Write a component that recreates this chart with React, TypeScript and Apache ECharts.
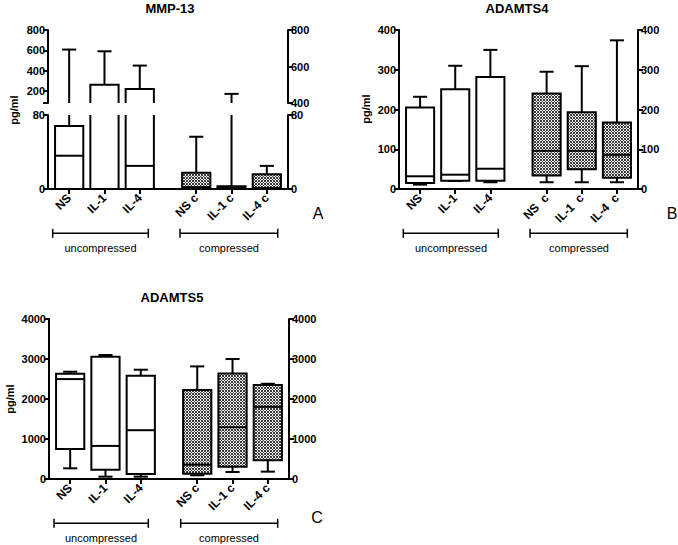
import React, { useEffect, useRef } from 'react';
import * as echarts from 'echarts';

const categories = ['NS', 'IL-1', 'IL-4', 'NS c', 'IL-1 c', 'IL-4 c'];
const categoriesB = ['NS', 'IL-1', 'IL-4', 'NS  c', 'IL-1  c', 'IL-4  c'];
const groupNames = ['uncompressed', 'compressed'];
const titles = ['MMP-13', 'ADAMTS4', 'ADAMTS5'];
const panelLetters = ['A', 'B', 'C'];

// [min, Q1, median, Q3, max]
const mmp13 = [
  [0, 0, 36, 68, 607],
  [0, 0, 0, 259, 590],
  [0, 0, 25, 217, 449],
  [0, 0, 2, 17.6, 56.5],
  [0, 0, 1, 3, 170],
  [0, 0, 1, 16, 25],
];
const adamts4 = [
  [11, 15, 32, 205, 232],
  [20, 21, 36, 251, 310],
  [17, 21, 51, 282, 350],
  [17, 34, 96, 240, 295],
  [17, 50, 96, 193, 309],
  [17, 28, 86, 167, 374],
];
const adamts5 = [
  [267, 752, 2498, 2632, 2682],
  [58, 230, 827, 3058, 3100],
  [58, 125, 1220, 2581, 2732],
  [92, 134, 359, 2222, 2815],
  [175, 309, 1295, 2640, 2999],
  [184, 468, 1804, 2347, 2381],
];

const mmpUpperLeftTicks = [80, 200, 400, 600, 800];
const mmpUpperLeftLabels = [200, 400, 600, 800];
const mmpUpperRightTicks = [400, 600, 800];
const mmpLowerTicks = [0, 80];

const FONT = '"Liberation Sans", Arial, Helvetica, sans-serif';
const GROUP_STEP = 3.6;
const positions = categories.map((_, i) => Math.floor(i / 3) * GROUP_STEP + (i % 3));

function makeRender(yMin: number, yMax: number, fills: any[]) {
  return (params: any, api: any) => {
    const cs = params.coordSys;
    const top = cs.y;
    const bottom = cs.y + cs.height;
    const idx = params.dataIndex;
    const xv = api.value(0);
    const mn = api.value(1), q1 = api.value(2), md = api.value(3), q3 = api.value(4), mx = api.value(5);
    const px = api.coord([xv, yMin])[0];
    const Y = (v: number) => api.coord([xv, v])[1];
    const cY = (v: number) => Math.min(bottom, Math.max(top, Y(v)));
    const inR = (v: number) => v >= yMin - 1e-9 && v <= yMax + 1e-9;
    const bw = api.size([0.8, 0])[0];
    const cw = bw / 2;
    const l = px - bw / 2;
    const r = px + bw / 2;
    const ln = { stroke: '#000', lineWidth: 2 };
    const children: any[] = [];
    const yTop = cY(q3);
    const yBot = cY(q1);
    const yMax_ = cY(mx);
    if (yMax_ < yTop - 0.1) {
      children.push({ type: 'line', shape: { x1: px, y1: yTop, x2: px, y2: yMax_ }, style: ln });
      if (inR(mx)) children.push({ type: 'line', shape: { x1: px - cw / 2, y1: yMax_, x2: px + cw / 2, y2: yMax_ }, style: ln });
    }
    const yMin_ = cY(mn);
    if (yMin_ > yBot + 0.1) children.push({ type: 'line', shape: { x1: px, y1: yBot, x2: px, y2: yMin_ }, style: ln });
    if (inR(mn) && inR(q1)) children.push({ type: 'line', shape: { x1: px - cw / 2, y1: yMin_, x2: px + cw / 2, y2: yMin_ }, style: ln });
    if (yBot - yTop > 0.1 || (inR(q1) && inR(q3))) {
      children.push({ type: 'rect', shape: { x: l, y: yTop, width: bw, height: Math.max(0, yBot - yTop) }, style: { fill: fills[idx], stroke: null } });
      const tv = inR(q3), bv = inR(q1);
      const outline = { fill: 'none', stroke: '#000', lineWidth: 2 };
      if (tv && bv) {
        children.push({ type: 'rect', shape: { x: l, y: yTop, width: bw, height: Math.max(0, yBot - yTop) }, style: outline });
      } else if (tv) {
        children.push({ type: 'polyline', shape: { points: [[l, yBot], [l, yTop], [r, yTop], [r, yBot]] }, style: outline });
      } else if (bv) {
        children.push({ type: 'polyline', shape: { points: [[l, yTop], [l, yBot], [r, yBot], [r, yTop]] }, style: outline });
      } else {
        children.push({ type: 'line', shape: { x1: l, y1: yTop, x2: l, y2: yBot }, style: ln });
        children.push({ type: 'line', shape: { x1: r, y1: yTop, x2: r, y2: yBot }, style: ln });
      }
      if (inR(md)) {
        const ym = Y(md);
        children.push({ type: 'line', shape: { x1: l, y1: ym, x2: r, y2: ym }, style: ln });
      }
    }
    return { type: 'group', children };
  };
}

export default function App() {
  const ref = useRef<HTMLDivElement>(null);
  useEffect(() => {
    if (!ref.current) return;
    const chart = echarts.init(ref.current, null, { renderer: 'svg' });

    // fine checker texture (cells of 2px and 1px alternating)
    const cv = document.createElement('canvas');
    cv.width = 6;
    cv.height = 6;
    const ctx = cv.getContext('2d')!;
    ctx.fillStyle = '#f4f4f4';
    ctx.fillRect(0, 0, 6, 6);
    ctx.fillStyle = '#3a3a3a';
    const b = [0, 2, 3, 5, 6];
    for (let i = 0; i < 4; i++) {
      for (let j = 0; j < 4; j++) {
        if ((i + j) % 2 === 0) ctx.fillRect(b[i], b[j], b[i + 1] - b[i], b[j + 1] - b[j]);
      }
    }
    const pattern: any = { image: cv, repeat: 'repeat', imageWidth: 6, imageHeight: 6 };
    const fills = categories.map((_, i) => (i < 3 ? '#ffffff' : pattern));

    const axisLine = { show: true, onZero: false, lineStyle: { color: '#000', width: 2 } };
    const tick = { show: true, length: 5, lineStyle: { color: '#000', width: 2 } };
    const yLabel = { color: '#000', fontWeight: 'bold', fontSize: 11, fontFamily: FONT, margin: 3, formatter: (v: number) => String(v) };

    const xAxisFor = (gridIndex: number, names: string[], show: boolean) => ({
      type: 'value',
      gridIndex,
      min: -0.6,
      max: 6.2,
      show,
      axisLine,
      splitLine: { show: false },
      axisTick: { ...tick, customValues: positions },
      axisLabel: {
        customValues: positions,
        rotate: 45,
        margin: 7,
        color: '#000',
        fontWeight: 'bold',
        fontSize: 12,
        fontFamily: FONT,
        formatter: (v: number) => {
          const k = positions.findIndex((p) => Math.abs(p - v) < 1e-6);
          return k >= 0 ? names[k] : '';
        },
      },
    });

    const yAxisFor = (gridIndex: number, position: string, min: number, max: number, interval: number | null, tickVals?: number[], labelVals?: number[]) => {
      const a: any = {
        type: 'value',
        gridIndex,
        position,
        min,
        max,
        axisLine,
        splitLine: { show: false },
        axisTick: { ...tick },
        axisLabel: { ...yLabel },
      };
      if (interval != null) a.interval = interval;
      if (tickVals) a.axisTick.customValues = tickVals;
      if (labelVals) a.axisLabel.customValues = labelVals;
      return a;
    };

    const series = [
      { x: 0, y: 0, data: mmp13, min: 80, max: 800 },
      { x: 1, y: 2, data: mmp13, min: 0, max: 80 },
      { x: 2, y: 4, data: adamts4, min: 0, max: 400 },
      { x: 3, y: 6, data: adamts5, min: 0, max: 4000 },
    ].map((s) => ({
      type: 'custom',
      xAxisIndex: s.x,
      yAxisIndex: s.y,
      renderItem: makeRender(s.min, s.max, fills),
      data: s.data.map((v, i) => [positions[i], ...v]),
      z: 3,
    }));

    const txt = (text: string, x: number, y: number, font: string, rotation = 0) => ({
      type: 'text',
      x,
      y,
      rotation,
      style: { text, font, fill: '#000', textAlign: 'center', textVerticalAlign: 'middle', align: 'center', verticalAlign: 'middle' },
    });
    const bracket = (x1: number, x2: number, y: number) => ({
      type: 'group',
      children: [
        { type: 'line', shape: { x1, y1: y, x2, y2: y }, style: { stroke: '#000', lineWidth: 1.5 } },
        { type: 'line', shape: { x1, y1: y - 4.5, x2: x1, y2: y + 4.5 }, style: { stroke: '#000', lineWidth: 1.5 } },
        { type: 'line', shape: { x1: x2, y1: y - 4.5, x2, y2: y + 4.5 }, style: { stroke: '#000', lineWidth: 1.5 } },
      ],
    });
    const titleFont = `bold 13px ${FONT}`;
    const labFont = `bold 11px ${FONT}`;
    const grpFont = `11px ${FONT}`;
    const letFont = `16px ${FONT}`;

    const graphics: any[] = [
      txt(titles[0], 170, 8, titleFont),
      txt(titles[1], 517, 8, titleFont),
      txt(titles[2], 172, 297, titleFont),
      txt('pg/ml', 14, 110, labFont, Math.PI / 2),
      txt('pg/ml', 366, 109, labFont, Math.PI / 2),
      txt('pg/ml', 10, 399, labFont, Math.PI / 2),
      bracket(52.7, 148.3, 233.3),
      bracket(180, 277.7, 233.3),
      bracket(403.3, 498.3, 233.3),
      bracket(530, 627.3, 233.3),
      bracket(54, 148.3, 523.3),
      bracket(180.7, 277.7, 523.3),
      txt(groupNames[0], 100.5, 248, grpFont),
      txt(groupNames[1], 229, 248, grpFont),
      txt(groupNames[0], 451, 248, grpFont),
      txt(groupNames[1], 579, 248, grpFont),
      txt(groupNames[0], 101, 538, grpFont),
      txt(groupNames[1], 229, 538, grpFont),
      txt(panelLetters[0], 318, 213, letFont),
      txt(panelLetters[1], 672, 213, letFont),
      txt(panelLetters[2], 317, 517, letFont),
    ];

    chart.setOption({
      animation: false,
      backgroundColor: '#fff',
      textStyle: { fontFamily: FONT },
      grid: [
        { left: 48, top: 30, width: 240, height: 73 },
        { left: 48, top: 115, width: 240, height: 74 },
        { left: 399, top: 30, width: 239, height: 159 },
        { left: 49, top: 319, width: 240, height: 160 },
      ],
      xAxis: [
        xAxisFor(0, categories, false),
        xAxisFor(1, categories, true),
        xAxisFor(2, categoriesB, true),
        xAxisFor(3, categories, true),
      ],
      yAxis: [
        yAxisFor(0, 'left', 80, 800, null, mmpUpperLeftTicks, mmpUpperLeftLabels),
        yAxisFor(0, 'right', 400, 800, 200, mmpUpperRightTicks, mmpUpperRightTicks),
        yAxisFor(1, 'left', 0, 80, 80, mmpLowerTicks, mmpLowerTicks),
        yAxisFor(1, 'right', 0, 80, 80, mmpLowerTicks, mmpLowerTicks),
        yAxisFor(2, 'left', 0, 400, 100),
        yAxisFor(2, 'right', 0, 400, 100),
        yAxisFor(3, 'left', 0, 4000, 1000),
        yAxisFor(3, 'right', 0, 4000, 1000),
      ],
      series,
      graphic: { elements: graphics },
    });
    return () => chart.dispose();
  }, []);
  return <div ref={ref} style={{ position: 'absolute', left: 0, top: 0, width: 678, height: 545 }} />;
}
